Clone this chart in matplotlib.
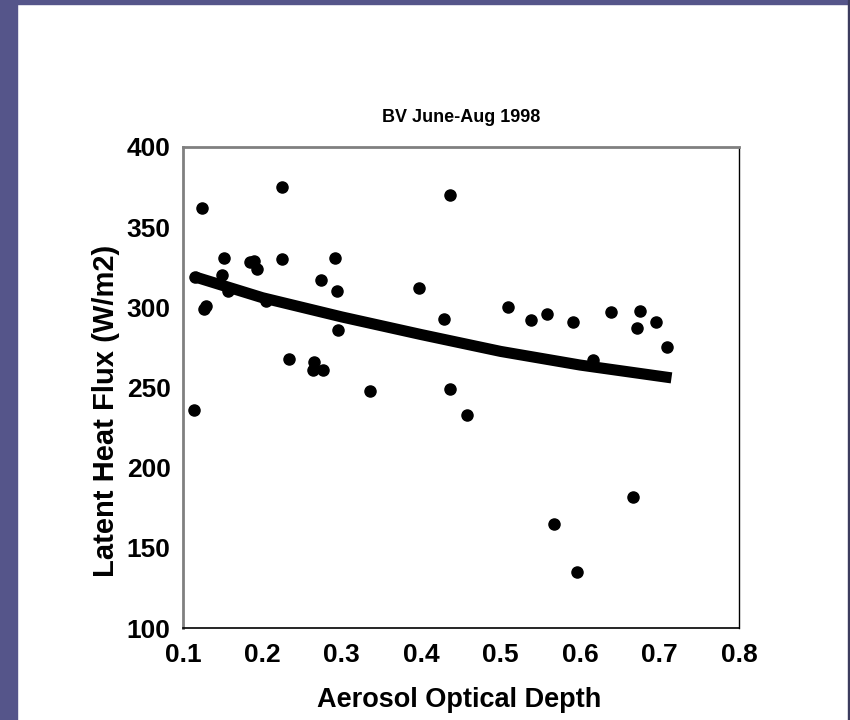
import matplotlib
matplotlib.use("Agg")
import matplotlib.pyplot as plt
from matplotlib.patches import Rectangle

plt.rcParams['font.family'] = ['Liberation Sans', 'DejaVu Sans']
plt.rcParams['font.weight'] = 'bold'

# aerosol optical depth vs latent heat flux
aod = [0.114, 0.124, 0.115, 0.126, 0.129, 0.152, 0.149, 0.157, 0.184, 0.189,
       0.193, 0.205, 0.225, 0.225, 0.233, 0.265, 0.264, 0.276, 0.274, 0.291,
       0.294, 0.295, 0.336, 0.397, 0.428, 0.436, 0.436, 0.457, 0.509, 0.538,
       0.558, 0.591, 0.616, 0.639, 0.671, 0.675, 0.695, 0.709, 0.667, 0.567,
       0.596]
flux = [236, 362, 319, 299, 301, 331, 320, 310, 328, 329,
        324, 304, 375, 330, 268, 266, 261, 261, 317, 331,
        310, 286, 248, 312, 293, 370, 249, 233, 300, 292,
        296, 291, 267, 297, 287, 298, 291, 275, 182, 165,
        135]

# trendline as drawn on the chart
trend_x = [0.115, 0.2, 0.3, 0.4, 0.5, 0.6, 0.715]
trend_y = [319, 306, 294, 283, 272.5, 264, 256]

xticks = [0.1, 0.2, 0.3, 0.4, 0.5, 0.6, 0.7, 0.8]
yticks = [100, 150, 200, 250, 300, 350, 400]

fig = plt.figure(figsize=(8.5, 7.2), dpi=100)
fig.patch.set_facecolor('white')

# slide border
fig.add_artist(Rectangle((0, 0), 17 / 850, 1, transform=fig.transFigure, color='#55558a', zorder=0))
fig.add_artist(Rectangle((0, 1 - 4 / 720), 1, 4 / 720, transform=fig.transFigure, color='#55558a', zorder=0))
fig.add_artist(Rectangle((848 / 850, 0), 2 / 850, 1, transform=fig.transFigure, color='#3c3c5e', zorder=0))

ax = fig.add_axes([183 / 850, 1 - 628 / 720, 556 / 850, 481 / 720])
ax.plot(trend_x, trend_y, color='black', lw=8, solid_capstyle='butt', zorder=2)
ax.plot(aod, flux, 'o', color='black', markersize=8, zorder=3)

ax.set_xlim(0.1, 0.8)
ax.set_ylim(100, 400)
ax.set_xticks(xticks)
ax.set_yticks(yticks)
ax.set_xticklabels([f"{t:.1f}" for t in xticks])
ax.set_yticklabels([str(t) for t in yticks])
ax.tick_params(length=0, labelsize=19)
ax.tick_params(axis='y', pad=9)
ax.tick_params(axis='x', pad=11)

ax.spines['left'].set_color('#808080')
ax.spines['top'].set_color('#808080')
ax.spines['left'].set_linewidth(2)
ax.spines['top'].set_linewidth(2)
ax.spines['right'].set_color('black')
ax.spines['bottom'].set_color('black')
ax.spines['right'].set_linewidth(1)
ax.spines['bottom'].set_linewidth(1.2)

ax.text(0.5, 1 + 25 / 481, "BV June-Aug 1998", transform=ax.transAxes,
        ha='center', va='baseline', fontsize=13, fontweight='bold')
fig.text(459 / 850, 1 - 707 / 720, "Aerosol Optical Depth", ha='center', va='baseline',
         fontsize=19.5, fontweight='bold')
fig.text(106 / 850, 1 - 411 / 720, "Latent Heat Flux (W/m2)", ha='center', va='center',
         rotation=90, fontsize=21, fontweight='bold')

fig.savefig("out.png", dpi=100)
